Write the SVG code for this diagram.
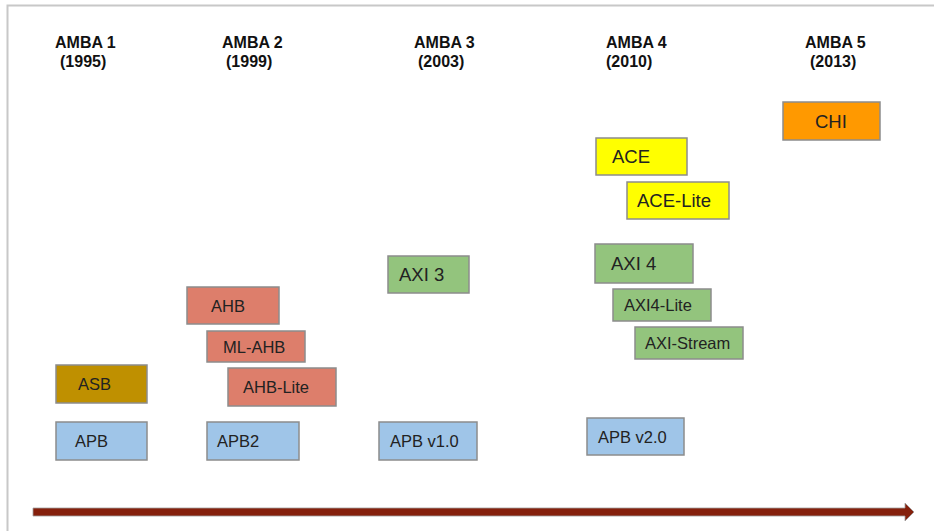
<svg xmlns="http://www.w3.org/2000/svg" width="934" height="531" viewBox="0 0 934 531">
<style>
  .hdr { font-family: "Liberation Sans", Arial, sans-serif; font-weight: bold; font-size: 16px; fill: #111; }
  .box { stroke: #8c8c8c; stroke-width: 1.5; }
  .lbl { font-family: "Liberation Sans", Arial, sans-serif; font-size: 16.5px; fill: #222; }
  .big { font-size: 18.5px; }
  .asb { fill: #BF9000; }
  .apb { fill: #9FC5E8; }
  .ahb { fill: #DD7E6B; }
  .axi { fill: #93C47D; }
  .ace { fill: #FFFF00; }
  .chi { fill: #FF9900; }
</style>
<rect width="934" height="531" fill="#ffffff"/>
<path d="M7.5,531 V5.5 H934" fill="none" stroke="#c8c8c8" stroke-width="2"/>

<g id="headers">
  <text class="hdr" x="55" y="48">AMBA 1</text>
  <text class="hdr" x="60" y="67">(1995)</text>
  <text class="hdr" x="222" y="48">AMBA 2</text>
  <text class="hdr" x="226" y="67">(1999)</text>
  <text class="hdr" x="414" y="48">AMBA 3</text>
  <text class="hdr" x="418" y="67">(2003)</text>
  <text class="hdr" x="606" y="48">AMBA 4</text>
  <text class="hdr" x="606" y="67">(2010)</text>
  <text class="hdr" x="805" y="48">AMBA 5</text>
  <text class="hdr" x="810" y="67">(2013)</text>
</g>

<g id="asb"><rect class="box asb" x="56" y="365" width="91" height="38"/><text class="lbl" x="78" y="390">ASB</text></g>
<g id="apb"><rect class="box apb" x="56" y="422" width="91" height="38"/><text class="lbl" x="75" y="447">APB</text></g>
<g id="ahb"><rect class="box ahb" x="187" y="287" width="92" height="37"/><text class="lbl" x="211" y="312">AHB</text></g>
<g id="ml-ahb"><rect class="box ahb" x="207" y="331" width="98" height="31"/><text class="lbl" x="223" y="353">ML-AHB</text></g>
<g id="ahb-lite"><rect class="box ahb" x="228" y="368" width="108" height="38"/><text class="lbl" x="243" y="393">AHB-Lite</text></g>
<g id="apb2"><rect class="box apb" x="207" y="422" width="92" height="38"/><text class="lbl" x="217" y="447">APB2</text></g>
<g id="axi3"><rect class="box axi" x="388" y="256" width="81" height="37"/><text class="lbl big" x="399" y="281">AXI 3</text></g>
<g id="apb-v1"><rect class="box apb" x="379" y="422" width="98" height="38"/><text class="lbl" x="390" y="447">APB v1.0</text></g>
<g id="ace"><rect class="box ace" x="596" y="138" width="91" height="37"/><text class="lbl big" x="612" y="163">ACE</text></g>
<g id="ace-lite"><rect class="box ace" x="627" y="182" width="102" height="37"/><text class="lbl big" x="637" y="207">ACE-Lite</text></g>
<g id="axi4"><rect class="box axi" x="595" y="244" width="98" height="39"/><text class="lbl big" x="611" y="270">AXI 4</text></g>
<g id="axi4-lite"><rect class="box axi" x="613" y="289" width="98" height="32"/><text class="lbl" x="624" y="311">AXI4-Lite</text></g>
<g id="axi-stream"><rect class="box axi" x="635" y="327" width="108" height="32"/><text class="lbl" x="645" y="349">AXI-Stream</text></g>
<g id="apb-v2"><rect class="box apb" x="587" y="418" width="97" height="37"/><text class="lbl" x="598" y="443">APB v2.0</text></g>
<g id="chi"><rect class="box chi" x="783" y="102" width="97" height="38"/><text class="lbl big" x="815" y="128">CHI</text></g>

<g id="connectors">
  <polygon points="33,508 905,508 905,503 914,512 905,521 905,516 33,516" fill="#85200C" stroke="#a0a0a0" stroke-width="0.8"/>
</g>
</svg>
